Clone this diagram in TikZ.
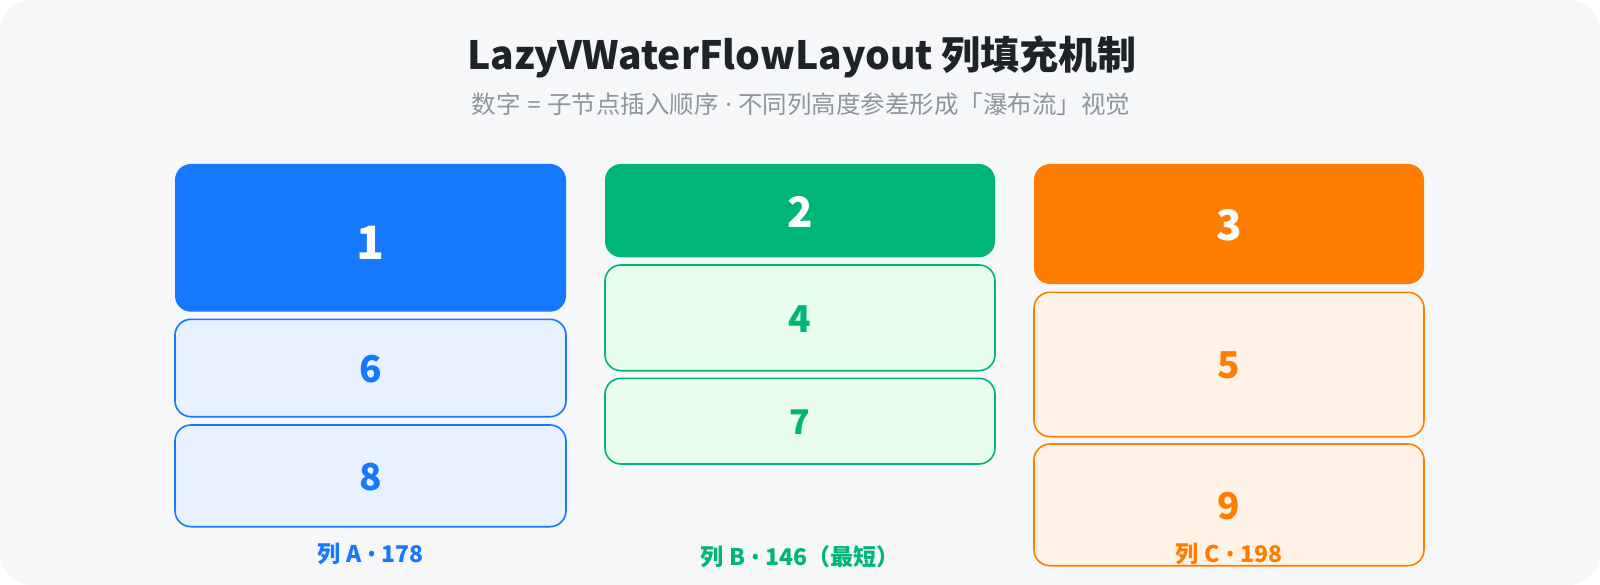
\documentclass[tikz,border=0pt]{standalone}
\usepackage{fontspec}
\setmainfont{Noto Sans CJK SC}
\newfontfamily\dotf{Noto Sans}
\newcommand\bsep{{\dotf\ •\ }}
\begin{document}
\begin{tikzpicture}[x=1pt,y=-1pt,
  solidbox/.style={draw=none, rounded corners=16pt, fill=#1},
  lightbox/.style={rounded corners=16pt, line width=1.6pt},
  bignum/.style={font=\fontsize{42}{46}\selectfont\bfseries, text=white},
  smallnum/.style={font=\fontsize{37}{42}\selectfont\bfseries},
  collabel/.style={font=\fontsize{23}{26}\selectfont\bfseries, anchor=base}]
\definecolor{bgc}{HTML}{F6F7F9}
\definecolor{blueM}{HTML}{1677FF}
\definecolor{blueL}{HTML}{E8F1FF}
\definecolor{greenM}{HTML}{00B578}
\definecolor{greenL}{HTML}{E8FDEB}
\definecolor{orangeM}{HTML}{FF7D00}
\definecolor{orangeL}{HTML}{FFF3E8}
\definecolor{titlec}{HTML}{1F2329}
\definecolor{subc}{HTML}{8F959E}
\fill[white] (0,0) rectangle (1600,585);
\useasboundingbox (0,0) rectangle (1600,585);
\fill[bgc, rounded corners=32pt] (0,0) rectangle (1600,585);
\node[font=\fontsize{39}{44}\selectfont\bfseries, text=titlec, anchor=base] (title) at (802,70) {LazyVWaterFlowLayout 列填充机制};
\node[font=\fontsize{24.5}{28}\selectfont, text=subc, anchor=base] (sub) at (801,114) {数字{\dotf\ =\ }子节点插入顺序{\dotf\ ·\ }不同列高度参差形成「瀑布流」视觉};
% column A
\draw[solidbox=blueM] (175,164) rectangle (566,311.7);
\node[bignum, font=\fontsize{46}{50}\selectfont\bfseries] (n1) at (370.5,243) {1};
\draw[lightbox, draw=blueM, fill=blueL] (175,319.3) rectangle (566,416.7);
\node[smallnum, text=blueM] (n6) at (370.5,369) {6};
\draw[lightbox, draw=blueM, fill=blueL] (175,425) rectangle (566,526.7);
\node[smallnum, text=blueM] (n8) at (370.5,476.7) {8};
\node[collabel, text=blueM] (la) at (370.5,562) {列{\dotf\ }A\bsep 178};
% column B
\draw[solidbox=greenM] (605,164) rectangle (995,257.3);
\node[bignum] (n2) at (800,211.7) {2};
\draw[lightbox, draw=greenM, fill=greenL] (605,265) rectangle (995,370.7);
\node[smallnum, text=greenM] (n4) at (800,318.8) {4};
\draw[lightbox, draw=greenM, fill=greenL] (605,378.3) rectangle (995,464);
\node[smallnum, text=greenM, font=\fontsize{34}{40}\selectfont\bfseries] (n7) at (800,422) {7};
\node[collabel, text=greenM] (lb) at (800,565) {列{\dotf\ }B\bsep 146（最短）};
% column C
\draw[solidbox=orangeM] (1034,164) rectangle (1424,284);
\node[bignum] (n3) at (1229,225.5) {3};
\draw[lightbox, draw=orangeM, fill=orangeL] (1034,292.3) rectangle (1424,436.7);
\draw[lightbox, draw=orangeM, fill=orangeL] (1034,444) rectangle (1424,565.7);
\node[smallnum, text=orangeM] (n5) at (1229,365.5) {5};
\node[smallnum, text=orangeM] (n9) at (1229,506) {9};
\node[collabel, text=orangeM] (lc) at (1229,562) {列{\dotf\ }C\bsep 198};
\end{tikzpicture}
\end{document}
